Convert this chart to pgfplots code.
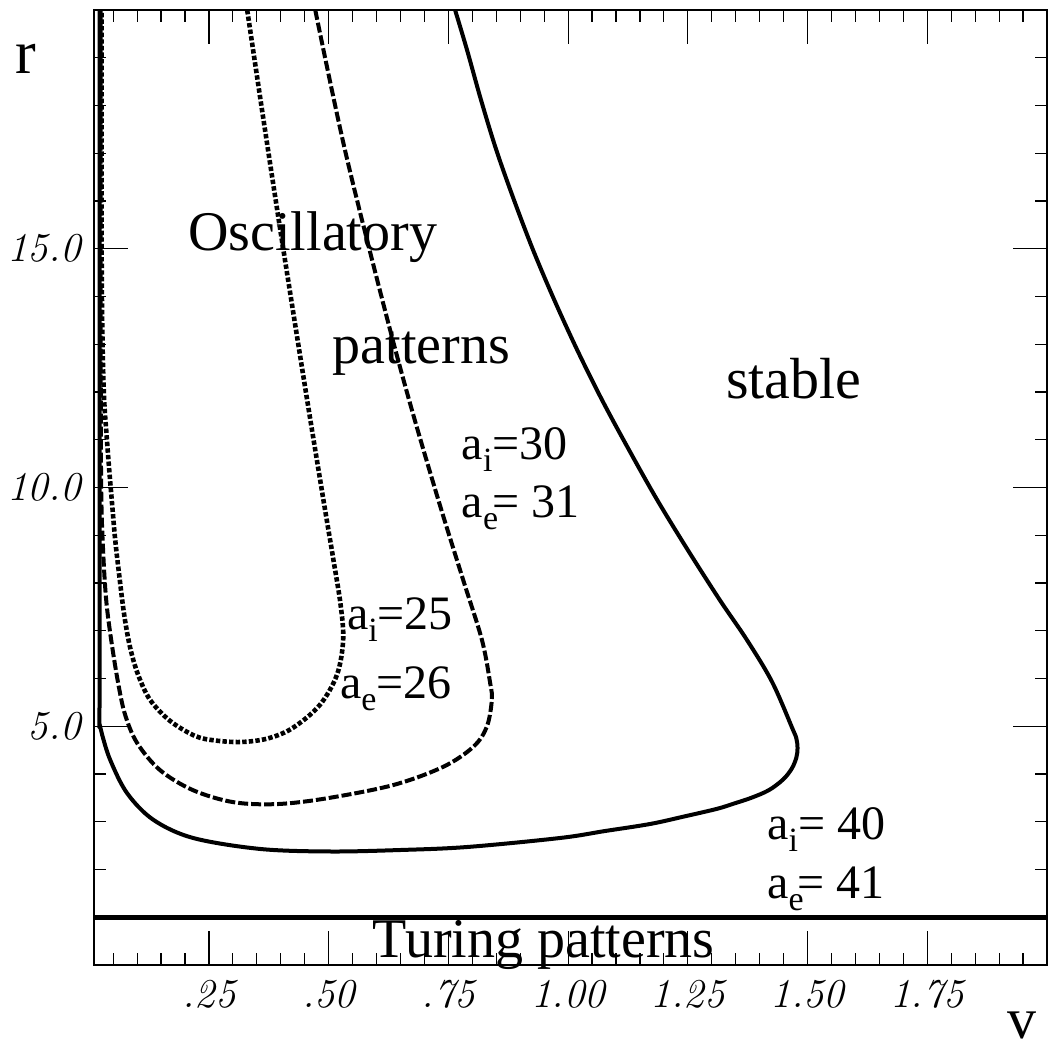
\documentclass[border=0pt]{standalone}
\usepackage{pgfplots}
\pgfplotsset{compat=1.18}
\usepackage{fontspec}
\newfontfamily\tms{Liberation Serif}
\newcommand{\sub}[1]{\raisebox{-6pt}{\fontsize{17}{17}\selectfont #1}}
\begin{document}
\begin{tikzpicture}
\begin{axis}[
  at={(0,0)}, anchor=south west,
  scale only axis, width=476.5pt, height=477.5pt,
  xmin=0.01, xmax=2.0, ymin=0, ymax=20,
  xtick={0.25,0.5,0.75,1.0,1.25,1.5,1.75},
  xticklabels={.25,.50,.75,1.00,1.25,1.50,1.75},
  ytick={5,10,15}, yticklabels={5.0,10.0,15.0},
  minor xtick={0.05,0.1,0.15,0.2,0.3,0.35,0.4,0.45,0.55,0.6,0.65,0.7,0.8,0.85,0.9,0.95,1.05,1.1,1.15,1.2,1.3,1.35,1.4,1.45,1.55,1.6,1.65,1.7,1.8,1.85,1.9,1.95},
  minor ytick={1,2,3,4,6,7,8,9,11,12,13,14,16,17,18,19},
  tick align=inside,
  major tick length=17pt, minor tick length=6pt,
  every tick/.style={black, line width=0.6pt},
  axis line style={line width=0.6pt},
  ticklabel style={font=\fontsize{20.5}{22}\selectfont\itshape},
  xticklabel style={yshift=-4pt},
  yticklabel style={xshift=-3pt},
  clip=false,
]
% a_i=40, a_e=41 (solid)
\addplot[line width=2pt, smooth, tension=0.55, line join=round] coordinates {
(0.764,20) (0.789,19.16) (0.818,18.12) (0.850,17.07) (0.887,16.02) (0.927,14.97)
(0.971,13.93) (1.019,12.88) (1.071,11.83) (1.127,10.79) (1.186,9.74) (1.25,8.69)
(1.317,7.64) (1.3735,6.806) (1.426,5.927) (1.469,4.938) (1.4766,4.746) (1.4791,4.545)
(1.4766,4.343) (1.467,4.113) (1.4489,3.885) (1.4194,3.663) (1.3827,3.502) (1.3466,3.382)
(1.3111,3.271) (1.2422,3.11) (1.1712,2.953) (1.0772,2.806) (0.9833,2.66) (0.7891,2.471)
(0.649,2.408) (0.503,2.377) (0.357,2.43) (0.217,2.66) (0.134,3.04) (0.079,3.6)
(0.044,4.29) (0.027,4.82) (0.0215,5.05) (0.0215,5.6) (0.0215,12) (0.0215,20)};
% a_i=30, a_e=31 (dashed)
\addplot[line width=2pt, smooth, tension=0.55, dash pattern=on 5pt off 1.5pt] coordinates {
(0.472,20) (0.534,17.07) (0.612,13.93) (0.668,11.83) (0.729,9.74) (0.781,8.06)
(0.82,6.81) (0.8372,5.906) (0.8407,5.55) (0.8303,4.99) (0.8023,4.572) (0.7397,4.153)
(0.6353,3.77) (0.4962,3.491) (0.392,3.37) (0.301,3.41) (0.217,3.66) (0.148,4.08)
(0.1,4.65) (0.075,5.24) (0.0605,5.9) (0.046,6.8) (0.0355,7.64) (0.029,8.69)
(0.025,10) (0.024,13) (0.024,20)};
% a_i=25, a_e=26 (dotted)
\addplot[line width=2.3pt, smooth, tension=0.55, dash pattern=on 2.2pt off 1.1pt] coordinates {
(0.3299,20) (0.3608,17.91) (0.3926,15.81) (0.4252,13.72) (0.4585,11.62) (0.4891,9.738)
(0.51,8.482) (0.525,7.539) (0.5303,6.806) (0.5173,6.075) (0.4804,5.432) (0.4238,4.957)
(0.3724,4.743) (0.3173,4.67) (0.263,4.702) (0.2213,4.796) (0.1691,5.11) (0.1273,5.55)
(0.1023,6.073) (0.0856,6.64) (0.0731,7.33) (0.0626,8.17) (0.0543,8.9)
(0.048,9.63) (0.0418,10.37) (0.0355,11.2) (0.0313,11.83) (0.028,12.94) (0.026,14.97) (0.026,20)};
% Turing boundary r = 1
\addplot[line width=2.5pt] coordinates {(0.01,1) (2.0,1)};

\begin{scope}[every node/.style={inner sep=0pt, anchor=base west}]
\node[font=\tms\fontsize{28}{30}\selectfont] at (axis cs:0.206,14.97) {Oscillatory};
\node[font=\tms\fontsize{28}{30}\selectfont] at (axis cs:0.508,12.6) {patterns};
\node[font=\tms\fontsize{29}{30}\selectfont] at (axis cs:1.329,11.87) {stable};
\node[font=\tms\fontsize{28}{30}\selectfont] at (axis cs:0.5917,0.15) {Turing patterns};
\node[font=\tms\fontsize{24}{26}\selectfont] at (axis cs:0.777,10.58) {a\sub{i}=30};
\node[font=\tms\fontsize{24}{26}\selectfont] at (axis cs:0.777,9.38) {a\sub{e}\kern-3pt= 31};
\node[font=\tms\fontsize{24}{26}\selectfont] at (axis cs:0.5375,7.02) {a\sub{i}=25};
\node[font=\tms\fontsize{24}{26}\selectfont] at (axis cs:0.523,5.59) {a\sub{e}=26};
\node[font=\tms\fontsize{24}{26}\selectfont] at (axis cs:1.415,2.62) {a\sub{i}= 40};
\node[font=\tms\fontsize{24}{26}\selectfont] at (axis cs:1.415,1.4) {a\sub{e}\kern-3pt= 41};
\node[font=\tms\fontsize{31}{32}\selectfont, anchor=base] at (axis cs:-0.132,18.68) {r};
\node[font=\tms\fontsize{29}{30}\selectfont, anchor=base] at (axis cs:1.948,-1.53) {v};
\end{scope}
\end{axis}
\pgfresetboundingbox
\path (-47pt,-39pt) rectangle (477pt,482.5pt);
\end{tikzpicture}
\end{document}
